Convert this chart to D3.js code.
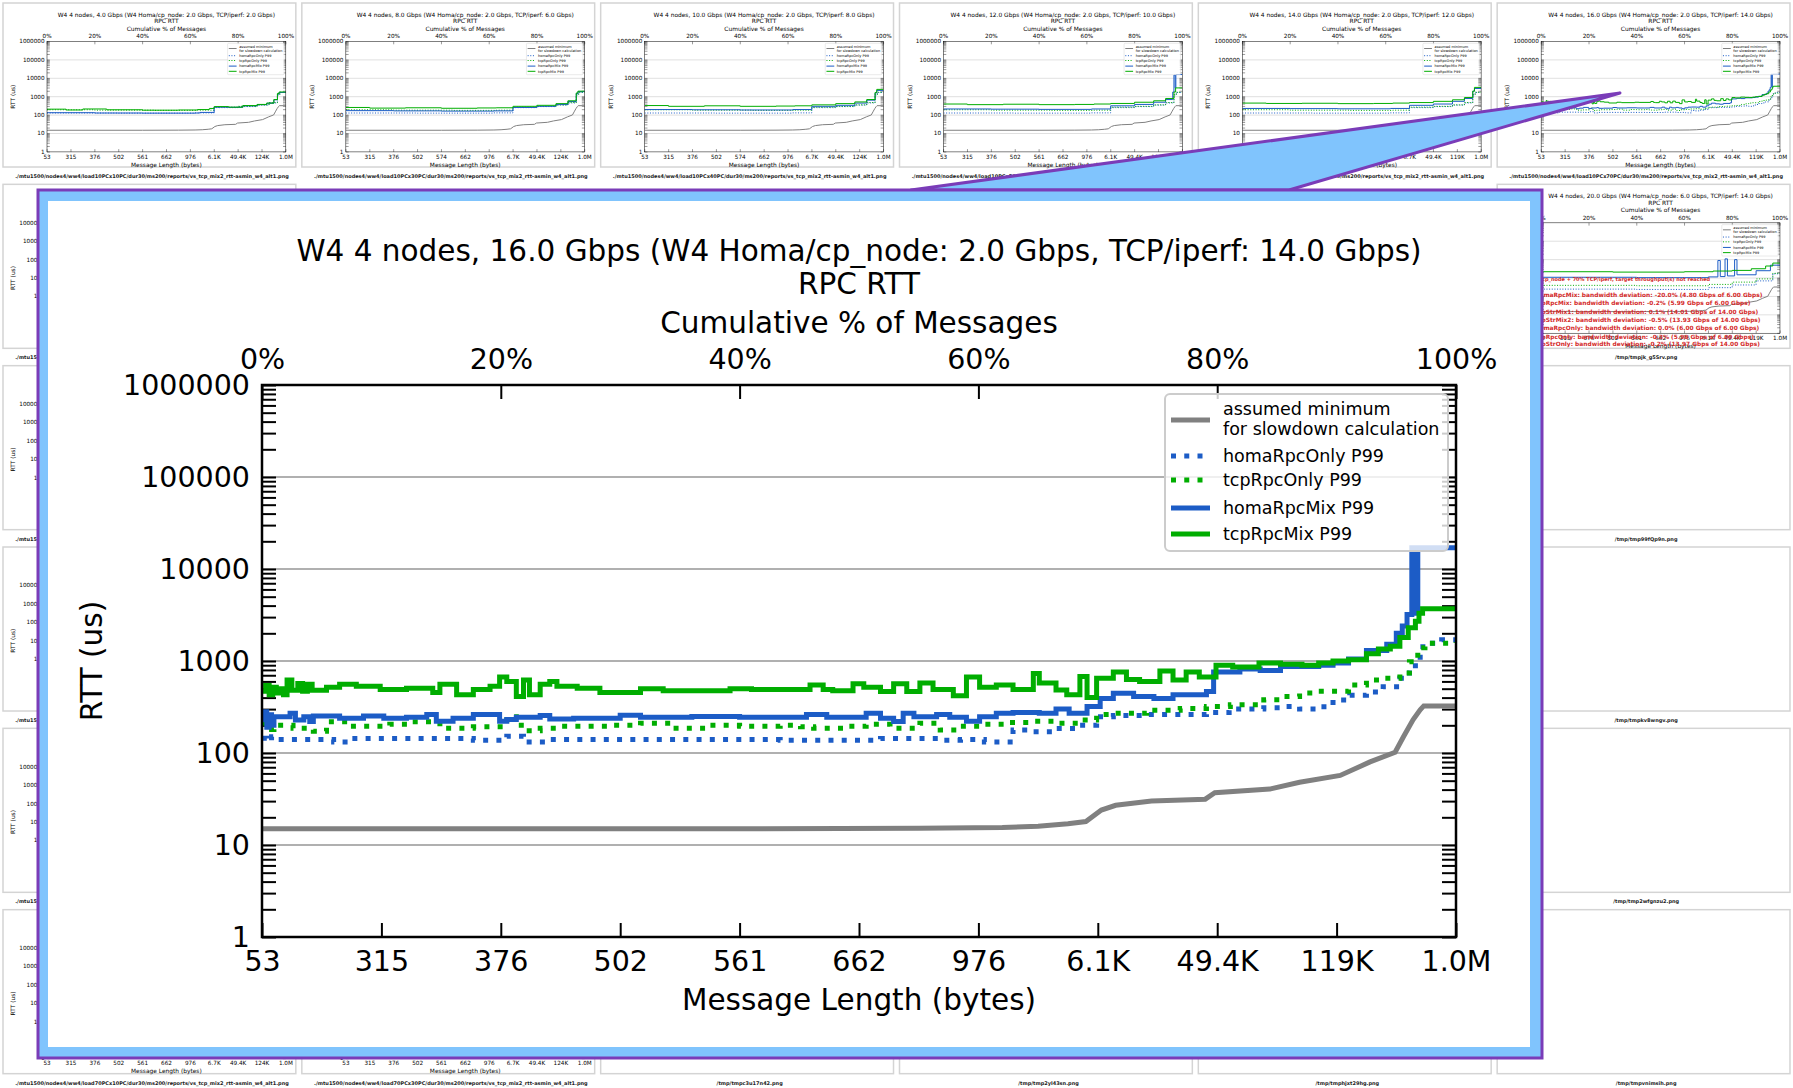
<!DOCTYPE html>
<html>
<head>
<meta charset="utf-8">
<script src="https://cdn.jsdelivr.net/npm/d3@7"></script>
<style>
  body { margin: 0; background: #fff; }
  text { font-family: "DejaVu Sans", sans-serif; }
</style>
</head>
<body>
<script>
const W = 1793, H = 1088;

// ---- main chart data: [cumulative %, RTT us] ----
const minRtt = [[0,15],[40,15],[55,15.2],[62,15.5],[65,16],[67.5,17],[69,18],[70.3,24],[71.5,27],[74.5,30],[79,31.5],[79.8,37],[84.4,40.5],[86.9,48],[90.3,57],[92.8,80],[94.9,102],[95.6,150],[96.4,230],[97,295],[97.3,325],[100,325]];

const homaRpcOnly = [[0,145],[0.4,135],[0.8,150],[1.0,140],[6.0,132],[7.3,144],[17.7,138],[20.5,152],[21.9,132],[23.9,140],[43.4,138],[51.8,144],[56.8,138],[58.5,140],[60.5,132],[62.9,178],[64.6,170],[66.5,185],[68.5,200],[69.9,248],[71.3,255],[74.1,262],[79.1,275],[81,300],[83.9,310],[85.3,320],[86.9,300],[88.5,318],[89.7,377],[91.1,425],[92.5,460],[93.9,526],[95.3,650],[96.1,830],[96.6,980],[97,1430],[97.6,1560],[98.8,1700],[100,1650]];

const tcpRpcOnly = [[0,210],[0.5,180],[1.0,200],[2.6,186],[4.3,172],[5.4,218],[7.3,195],[10.7,205],[12.6,218],[14.9,186],[17.7,193],[20.5,248],[21.3,200],[22.1,175],[23.3,186],[24.7,195],[28.9,200],[31.7,210],[34.4,186],[37.2,200],[40,195],[43.4,200],[45.1,193],[46.2,186],[49.0,195],[50.6,205],[52.6,186],[55.1,210],[56.8,178],[58.5,195],[60.1,205],[62.4,215],[64.6,222],[66.5,210],[68.5,228],[69.9,262],[71.3,270],[74.1,292],[76.9,305],[79.1,320],[81.1,335],[83.9,380],[85.3,410],[86.9,450],[88.5,470],[91,550],[92.5,620],[94,650],[95.3,740],[96.1,980],[96.8,1390],[97.4,1560],[100,1600]];

const homaRpcMix = [[0,230],[0.2,280],[0.4,190],[0.6,260],[0.8,200],[1.0,248],[2.35,270],[2.8,228],[3.5,248],[4.0,220],[4.3,252],[6.5,238],[8.5,252],[10.2,238],[12.1,244],[13.8,262],[14.6,222],[16.0,238],[17.7,262],[19.9,222],[20.5,232],[21.3,244],[23.3,256],[24.1,234],[26.1,238],[30,258],[31.7,244],[36,250],[40,244],[43.4,244],[45.6,262],[47.3,244],[50.6,270],[51.8,238],[52.9,220],[53.7,270],[54.6,248],[56.5,262],[57.6,244],[59.0,222],[60.1,248],[61.5,270],[62.9,275],[65.1,270],[66.5,300],[67.6,270],[69.1,320],[70.2,390],[71.3,445],[73,410],[74.7,390],[76.3,430],[79.1,465],[79.7,760],[81.9,820],[83.6,790],[85.3,870],[88.5,900],[89.7,950],[91,1050],[92.5,1300],[94.2,1520],[95.0,2000],[95.5,2400],[95.9,3200],[96.3,17000],[96.6,3300],[96.8,17000],[100,17000]];

const tcpRpcMix = [[0,470],[0.3,540],[0.6,430],[0.9,520],[1.2,450],[1.5,500],[1.8,430],[2.1,620],[2.5,480],[3.0,570],[3.4,470],[3.8,560],[4.2,480],[5.4,520],[6.5,560],[7.9,530],[9.9,490],[12.1,505],[14.3,455],[14.9,560],[16.3,430],[17.7,490],[19.1,530],[19.9,670],[20.5,600],[21.3,410],[21.9,620],[22.4,430],[23.3,560],[24.1,600],[24.7,530],[26.4,505],[28.3,455],[31.7,500],[33.6,475],[39.2,500],[41,490],[45.9,550],[47.0,490],[47.8,475],[49.5,565],[50.4,520],[51.8,465],[52.9,565],[54.0,465],[55.1,575],[56.2,490],[57.9,420],[59.0,670],[60.1,520],[61.5,550],[62.9,490],[64.6,730],[65.1,575],[66.5,484],[67.4,430],[68.5,680],[69.1,400],[69.9,650],[71.3,760],[72.4,630],[73.5,600],[75.2,780],[76.3,620],[77.4,760],[78.5,670],[79.9,900],[81.3,860],[83.5,950],[85.3,920],[87.1,900],[88.5,950],[89.7,1000],[91,1030],[92.5,1200],[93.5,1350],[94.5,1450],[95.3,1800],[96,2300],[96.6,2700],[96.9,3300],[97.2,3700],[100,3700]];

// ---- thumbnail data (coarse readings) ----
const thOnlyBlue = [[0,130],[30,128],[62,132],[70,255],[80,290],[88,350],[93,460],[96.5,1250],[97.5,1700],[100,1700]];
const thOnlyGreen = [[0,195],[20,185],[45,180],[63,185],[70,270],[80,300],[88,360],[93,480],[96.5,1300],[97.5,1750],[100,1750]];
const th4Green = [[0,210],[8,190],[15,215],[25,195],[40,185],[55,190],[63,200],[68,230],[70,290],[76,270],[82,330],[88,380],[92,450],[95,700],[96.5,1500],[97.2,1800],[100,1750]];
const th4Blue = [[0,135],[20,130],[40,128],[62,130],[64,140],[70,270],[76,265],[82,320],[88,370],[92,440],[95,680],[96.5,1400],[97.2,1700],[100,1700]];
const th8Green = [[0,260],[10,240],[25,250],[40,235],[55,245],[63,250],[70,300],[80,340],[88,420],[93,600],[96.5,1600],[97.2,2000],[100,2000]];
const th8Blue = [[0,175],[20,170],[40,165],[62,170],[70,260],[80,300],[88,380],[93,550],[96.5,1500],[97.2,1900],[100,1900]];
const th10Green = [[0,330],[10,300],[25,320],[40,300],[55,310],[63,320],[70,360],[80,420],[88,520],[93,700],[96.5,1700],[97.2,2500],[100,2500]];
const th10Blue = [[0,200],[20,195],[40,190],[62,200],[70,300],[80,340],[88,450],[93,650],[96.5,1600],[97.2,2200],[100,2200]];
const th12Green = [[0,400],[10,370],[25,390],[40,370],[55,380],[63,400],[70,430],[80,500],[88,600],[93,800],[96.5,1800],[97.2,3000],[100,3000]];
const th12Blue = [[0,215],[20,210],[40,205],[62,215],[70,320],[80,380],[88,500],[93,700],[96,1800],[96.5,15000],[97,3000],[97.3,16000],[100,16000]];
const th14Green = [[0,450],[10,430],[25,440],[40,420],[55,430],[63,450],[70,480],[80,560],[88,680],[93,900],[96.5,2000],[97.2,3200],[100,3200]];
const th14Blue = [[0,230],[20,225],[40,220],[62,230],[70,340],[80,400],[88,560],[93,800],[96.5,2000],[97.2,2800],[100,2800]];
const th20Green = [[0,2200],[30,2100],[60,2200],[72,2400],[80,2600],[88,3200],[94,4500],[97,6500],[100,6500]];
const th20Blue = [[0,1100],[40,1050],[70,1150],[74,9000],[75,1200],[77,11000],[78,1300],[81,10000],[82,1500],[90,2500],[96,5000],[100,5200]];
const th20OnlyGreen = [[0,400],[40,380],[70,450],[80,600],[90,900],[97,1800],[100,1900]];
const th20OnlyBlue = [[0,250],[40,240],[70,300],[80,420],[90,700],[97,1700],[100,1800]];

// ---- tick labels ----
const topTicks = [0, 20, 40, 60, 80, 100];
const lenTicks = [0, 10, 20, 30, 40, 50, 60, 70, 80, 90, 100];
const lenMain = ['53','315','376','502','561','662','976','6.1K','49.4K','119K','1.0M'];
const lenB = ['53','315','376','502','561','662','976','6.1K','49.4K','124K','1.0M'];
const lenC = ['53','315','376','502','574','662','976','6.7K','49.4K','124K','1.0M'];
const lenD = ['53','315','376','502','561','662','976','6.7K','49.4K','119K','1.0M'];
const lenE = ['53','315','376','502','561','662','976','6.7K','49.4K','124K','1.0M'];
const decades = [1, 10, 100, 1000, 10000, 100000, 1000000];
const legendNames = [['assumed minimum', 'for slowdown calculation'], ['homaRpcOnly P99'], ['tcpRpcOnly P99'], ['homaRpcMix P99'], ['tcpRpcMix P99']];
const warnLines = [
  'homaRpcMix: bandwidth deviation: -20.0% (4.80 Gbps of 6.00 Gbps)',
  'tcpRpcMix: bandwidth deviation: -0.2% (5.99 Gbps of 6.00 Gbps)',
  'tcpStrMix1: bandwidth deviation: 0.1% (14.01 Gbps of 14.00 Gbps)',
  'tcpStrMix2: bandwidth deviation: -0.5% (13.93 Gbps of 14.00 Gbps)',
  'homaRpcOnly: bandwidth deviation: 0.0% (6.00 Gbps of 6.00 Gbps)',
  'tcpRpcOnly: bandwidth deviation: -0.3% (5.98 Gbps of 6.00 Gbps)',
  'tcpStrOnly: bandwidth deviation: -0.2% (13.97 Gbps of 14.00 Gbps)'
];

const BLUE = '#1c5cc6', GREEN = '#00ad00', GRAY = '#808080';
const PW = 1194, PH = 552;
let clipId = 0;

const svg = d3.select('body').append('svg')
  .attr('width', W).attr('height', H)
  .style('display', 'block');

function title(gbps, homa, tcp) {
  return `W4 4 nodes, ${gbps} Gbps (W4 Homa/cp_node: ${homa} Gbps, TCP/iperf: ${tcp} Gbps)`;
}

// one chart drawn in "main" units, origin at the plot's top-left corner
function drawChart(g, d) {
  const x = d3.scaleLinear().domain([0, 100]).range([0, PW]);
  const y = d3.scaleLog().domain([1, 1e6]).range([PH, 0]);
  const minor = y.ticks().filter(v => !decades.includes(v));

  g.append('g').selectAll('line').data(decades.slice(1, -1)).enter().append('line')
    .attr('x1', 0).attr('x2', PW).attr('y1', v => y(v)).attr('y2', v => y(v))
    .attr('stroke', '#b0b0b0').attr('stroke-width', 2);

  const styleAxis = a => {
    a.select('.domain').remove();
    a.selectAll('line').attr('stroke', '#000').attr('stroke-width', 2);
    a.selectAll('text').attr('font-family', 'DejaVu Sans').attr('font-size', 28.5).attr('fill', '#000');
    a.attr('font-family', null).attr('font-size', null);
  };
  g.append('g').call(d3.axisLeft(y).tickValues(decades).tickFormat(d3.format('d'))
    .tickSizeInner(-14).tickSizeOuter(0).tickPadding(12)).call(styleAxis);
  g.append('g').call(d3.axisLeft(y).tickValues(minor).tickFormat('')
    .tickSizeInner(-14).tickSizeOuter(0)).call(styleAxis);
  g.append('g').attr('transform', `translate(${PW},0)`)
    .call(d3.axisRight(y).tickValues(y.ticks()).tickFormat('')
    .tickSizeInner(-14).tickSizeOuter(0)).call(styleAxis);
  g.append('g').call(d3.axisTop(x).tickValues(topTicks).tickFormat(v => v + '%')
    .tickSizeInner(-14).tickSizeOuter(0).tickPadding(16)).call(styleAxis);
  g.append('g').attr('transform', `translate(0,${PH})`)
    .call(d3.axisBottom(x).tickValues(lenTicks).tickFormat((v, i) => d.lengths[i])
    .tickSizeInner(-14).tickSizeOuter(0).tickPadding(14)).call(styleAxis);

  const txt = (tx, ty, s) => g.append('text').attr('x', tx).attr('y', ty)
    .attr('text-anchor', 'middle').attr('font-size', 29.5).attr('fill', '#000').text(s);
  txt(PW / 2, -124, d.title);
  txt(PW / 2, -91, 'RPC RTT');
  txt(PW / 2, -52, 'Cumulative % of Messages');
  txt(PW / 2, 625, 'Message Length (bytes)');
  g.append('text').attr('transform', `translate(-160,${PH / 2}) rotate(-90)`)
    .attr('text-anchor', 'middle').attr('font-size', 29.5).text('RTT (us)');

  const id = 'clip' + (clipId++);
  g.append('clipPath').attr('id', id).append('rect').attr('width', PW).attr('height', PH);
  const lines = g.append('g').attr('clip-path', `url(#${id})`);
  const step = d3.line().x(p => x(p[0])).y(p => y(p[1])).curve(d3.curveStepAfter);
  const straight = d3.line().x(p => x(p[0])).y(p => y(p[1]));
  const styles = [
    { color: GRAY, dash: null, gen: straight },
    { color: BLUE, dash: '5,8.25', gen: step },
    { color: GREEN, dash: '5,8.25', gen: step },
    { color: BLUE, dash: null, gen: step },
    { color: GREEN, dash: null, gen: step }
  ];
  if (d.series) {
    d.series.forEach((s, i) => {
      lines.append('path').attr('d', styles[i].gen(s)).attr('fill', 'none')
        .attr('stroke', styles[i].color).attr('stroke-width', 5)
        .attr('stroke-dasharray', styles[i].dash).attr('stroke-linejoin', 'miter');
    });
  }

  g.append('rect').attr('width', PW).attr('height', PH)
    .attr('fill', 'none').attr('stroke', '#000').attr('stroke-width', 2.5);

  // legend
  const lg = g.append('g').attr('transform', 'translate(903,9)');
  lg.append('rect').attr('width', 283).attr('height', 157).attr('rx', 5)
    .attr('fill', '#fff').attr('fill-opacity', 0.8).attr('stroke', '#cccccc').attr('stroke-width', 2);
  const rowY = [26, 62, 86, 114, 140];
  legendNames.forEach((names, i) => {
    lg.append('line').attr('x1', 6).attr('x2', 45).attr('y1', rowY[i]).attr('y2', rowY[i])
      .attr('stroke', styles[i].color).attr('stroke-width', 5)
      .attr('stroke-dasharray', styles[i].dash);
    names.forEach((n, k) => {
      lg.append('text').attr('x', 58)
        .attr('y', names.length > 1 ? rowY[i] - 11 + k * 20 : rowY[i])
        .attr('dy', '0.35em').attr('font-size', 17.5).attr('fill', '#000').text(n);
    });
  });
}

// ---- background grid of thumbnails ----
const cw = W / 6, ch = H / 6;
function cell(col, row, label, chart) {
  const g = svg.append('g').attr('transform', `translate(${col * cw},${row * ch})`);
  g.append('rect').attr('x', 3).attr('y', 3).attr('width', cw - 6).attr('height', 164)
    .attr('fill', '#fff').attr('stroke', '#d4d4d4').attr('stroke-width', 1.5);
  g.append('text').attr('x', 152).attr('y', 178).attr('text-anchor', 'middle')
    .attr('font-size', 5).attr('font-weight', 'bold').attr('fill', '#222').text(label);
  if (chart) {
    const inner = g.append('g').attr('transform', 'translate(47,41.5) scale(0.2)');
    drawChart(inner, chart);
  }
  return g;
}
const mtu = s => `./mtu1500/nodes4/ww4/load${s}/dur30/ms200/reports/vs_tcp_mix2_rtt-asmin_w4_alt1.png`;

cell(0, 0, mtu('10PCx10PC'), { title: title('4.0', '2.0', '2.0'), lengths: lenB, series: [minRtt, thOnlyBlue, thOnlyGreen, th4Blue, th4Green] });
cell(1, 0, mtu('10PCx30PC'), { title: title('8.0', '2.0', '6.0'), lengths: lenC, series: [minRtt, thOnlyBlue, thOnlyGreen, th8Blue, th8Green] });
cell(2, 0, mtu('10PCx40PC'), { title: title('10.0', '2.0', '8.0'), lengths: lenC, series: [minRtt, thOnlyBlue, thOnlyGreen, th10Blue, th10Green] });
cell(3, 0, mtu('10PCx50PC'), { title: title('12.0', '2.0', '10.0'), lengths: lenMain, series: [minRtt, thOnlyBlue, thOnlyGreen, th12Blue, th12Green] });
cell(4, 0, mtu('10PCx60PC'), { title: title('14.0', '2.0', '12.0'), lengths: lenD, series: [minRtt, thOnlyBlue, thOnlyGreen, th14Blue, th14Green] });
cell(5, 0, mtu('10PCx70PC'), { title: title('16.0', '2.0', '14.0'), lengths: lenMain, series: [minRtt, homaRpcOnly, tcpRpcOnly, homaRpcMix, tcpRpcMix] });

const loads = ['30PCx10PC', '40PCx10PC', '50PCx10PC', '60PCx10PC', '70PCx10PC'];
const homaG = ['6.0', '8.0', '10.0', '12.0', '14.0'];
const totG = ['8.0', '10.0', '12.0', '14.0', '16.0'];
loads.forEach((l, i) => cell(0, i + 1, mtu(l), { title: title(totG[i], homaG[i], '2.0'), lengths: lenE, series: null }));
cell(1, 5, mtu('70PCx30PC'), { title: title('20.0', '14.0', '6.0'), lengths: lenE, series: null });

const r2 = cell(5, 1, '/tmp/tmpjk_g5Srv.png', { title: title('20.0', '6.0', '14.0'), lengths: lenMain, series: [minRtt, th20OnlyBlue, th20OnlyGreen, th20Blue, th20Green] });
r2.append('text').attr('x', 216).attr('y', 99.5).attr('text-anchor', 'end')
  .attr('font-size', 5).attr('font-weight', 'bold').attr('fill', '#d42a2a')
  .text('W4 Homa/cp_node + 70% TCP/iperf, target throughput(s) not reached');
const warnY = [116, 124, 132.5, 141, 149, 157.5, 165];
warnLines.forEach((s, i) => r2.append('text').attr('x', 41).attr('y', warnY[i])
  .attr('font-size', 5.9).attr('font-weight', 'bold').attr('fill', '#d42a2a').text(s));

cell(5, 2, '/tmp/tmp99fQp9n.png', null);
cell(5, 3, '/tmp/tmpkv8wngv.png', null);
cell(5, 4, '/tmp/tmp2wfgnzu2.png', null);
cell(2, 5, '/tmp/tmpc3u17n42.png', null);
cell(3, 5, '/tmp/tmp2yl43sn.png', null);
cell(4, 5, '/tmp/tmphjxt29hg.png', null);
cell(5, 5, '/tmp/tmpvnimsih.png', null);

// ---- magnifier callout ----
const box = { x: 38, y: 190, w: 1504, h: 868 };
// drop background texts that the callout box covers completely
svg.selectAll('text').each(function () {
  const b = this.getBoundingClientRect();
  if (b.left >= box.x && b.right <= box.x + box.w && b.top >= box.y && b.bottom <= box.y + box.h) {
    this.remove();
  }
});

const CALLOUT = '#80c4fd', FRAME = '#7a3cb8';
svg.append('polygon').attr('points', '911,190 1620,93 1289,190')
  .attr('fill', CALLOUT).attr('stroke', FRAME).attr('stroke-width', 3).attr('stroke-linejoin', 'round');
svg.append('rect').attr('x', box.x).attr('y', box.y).attr('width', box.w).attr('height', box.h)
  .attr('fill', CALLOUT).attr('stroke', FRAME).attr('stroke-width', 3);
svg.append('rect').attr('x', 48).attr('y', 201).attr('width', 1482).attr('height', 846).attr('fill', '#fff');

const mainG = svg.append('g').attr('transform', 'translate(262,385)');
drawChart(mainG, {
  title: title('16.0', '2.0', '14.0'),
  lengths: lenMain,
  series: [minRtt, homaRpcOnly, tcpRpcOnly, homaRpcMix, tcpRpcMix]
});
</script>
</body>
</html>
